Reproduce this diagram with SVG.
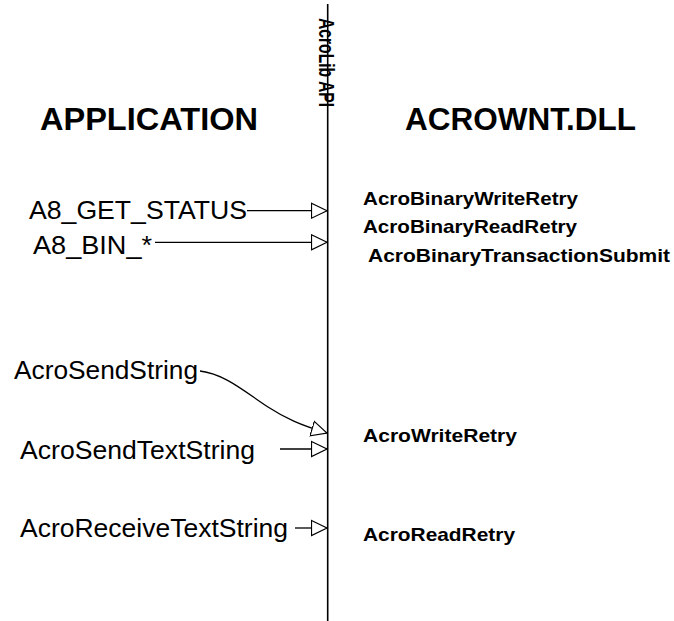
<svg xmlns="http://www.w3.org/2000/svg" width="674" height="621" viewBox="0 0 674 621">
<defs>
<marker id="ah" markerWidth="18" markerHeight="18" viewBox="0 0 18 18" refX="16" refY="9" orient="auto" markerUnits="userSpaceOnUse">
<path d="M0.5,1.5 L16,9 L0.5,16.5 Z" fill="#fff" stroke="#000" stroke-width="1.2"/>
</marker>
<style>
.lbl{font-family:"Liberation Sans",Arial,sans-serif;font-size:26px;fill:#000}
.hdr{font-family:"Liberation Sans",Arial,sans-serif;font-size:32px;font-weight:bold;fill:#000}
.fn{font-family:"Liberation Sans",Arial,sans-serif;font-size:19px;font-weight:bold;fill:#000}
.api{font-family:"Liberation Sans",Arial,sans-serif;font-size:22px;font-weight:bold;fill:#000}
.c{fill:none;stroke:#000;stroke-width:1.3}
</style>
</defs>
<rect width="674" height="621" fill="#fff"/>
<g id="api-line">
<line x1="327.7" y1="4" x2="327.7" y2="621" stroke="#000" stroke-width="1.6"/>
<text class="api" transform="translate(319,18) rotate(90)" textLength="89" lengthAdjust="spacingAndGlyphs">AcroLib API</text>
</g>
<g id="hdr-app"><text class="hdr" x="40" y="130" textLength="218" lengthAdjust="spacingAndGlyphs">APPLICATION</text></g>
<g id="hdr-dll"><text class="hdr" x="405" y="130" textLength="231" lengthAdjust="spacingAndGlyphs">ACROWNT.DLL</text></g>
<g id="n-getstatus"><text class="lbl" x="29" y="219" textLength="218" lengthAdjust="spacingAndGlyphs">A8_GET_STATUS</text></g>
<g id="n-bin"><text class="lbl" x="33" y="254" textLength="119" lengthAdjust="spacingAndGlyphs">A8_BIN_*</text></g>
<g id="n-sendstring"><text class="lbl" x="14" y="379" textLength="184" lengthAdjust="spacingAndGlyphs">AcroSendString</text></g>
<g id="n-sendtext"><text class="lbl" x="20" y="459" textLength="235" lengthAdjust="spacingAndGlyphs">AcroSendTextString</text></g>
<g id="n-receive"><text class="lbl" x="20" y="537" textLength="268" lengthAdjust="spacingAndGlyphs">AcroReceiveTextString</text></g>
<g id="f-bwrite"><text class="fn" x="363" y="205" textLength="215" lengthAdjust="spacingAndGlyphs">AcroBinaryWriteRetry</text></g>
<g id="f-bread"><text class="fn" x="363" y="233" textLength="214" lengthAdjust="spacingAndGlyphs">AcroBinaryReadRetry</text></g>
<g id="f-btrans"><text class="fn" x="368" y="262" textLength="302" lengthAdjust="spacingAndGlyphs">AcroBinaryTransactionSubmit</text></g>
<g id="f-write"><text class="fn" x="363" y="442" textLength="154" lengthAdjust="spacingAndGlyphs">AcroWriteRetry</text></g>
<g id="f-read"><text class="fn" x="363" y="541" textLength="152" lengthAdjust="spacingAndGlyphs">AcroReadRetry</text></g>
<g id="connectors">
<line class="c" x1="247" y1="210.7" x2="327" y2="210.7" marker-end="url(#ah)"/>
<line class="c" x1="155" y1="242.3" x2="327" y2="242.3" marker-end="url(#ah)"/>
<path class="c" d="M200,371 C225,374 245,392 268,407 C285,418 300,425 327,433" marker-end="url(#ah)"/>
<line class="c" x1="280" y1="449" x2="327" y2="449" marker-end="url(#ah)"/>
<line class="c" x1="295" y1="528" x2="327" y2="528" marker-end="url(#ah)"/>
</g>
</svg>
